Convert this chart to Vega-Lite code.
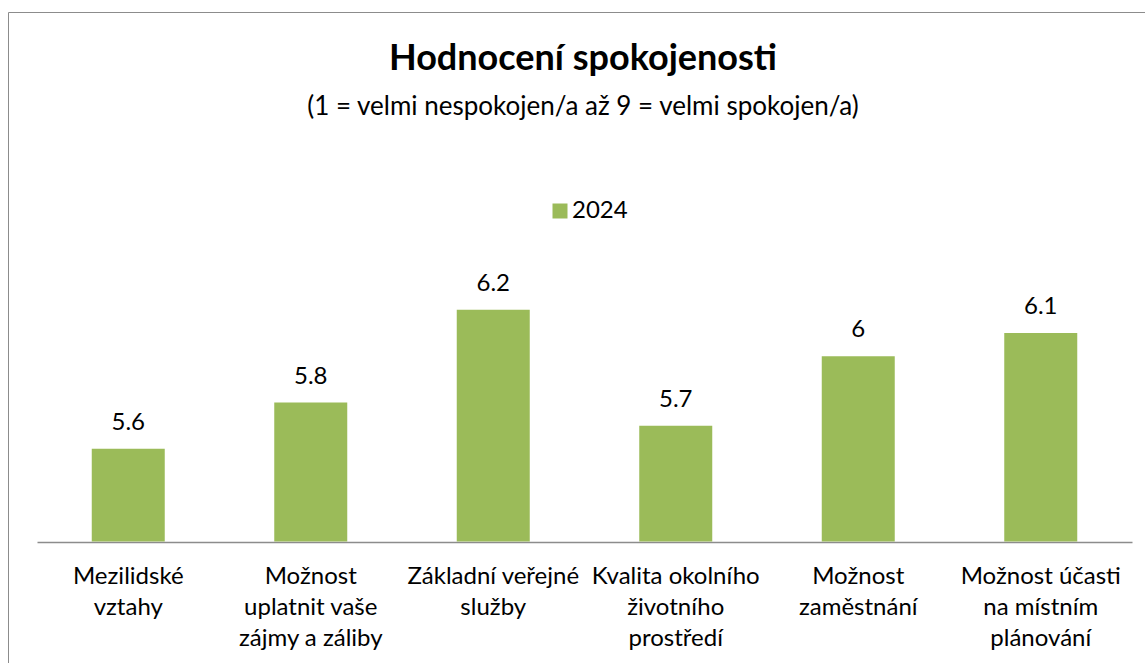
{
  "$schema": "https://vega.github.io/schema/vega-lite/v6.json",
  "width": 1150,
  "height": 660,
  "autosize": {"type": "none"},
  "padding": {"left": 8, "top": 12, "right": 0, "bottom": 0},
  "background": "white",
  "title": {
    "text": "Hodnocení spokojenosti",
    "subtitle": "(1 = velmi nespokojen/a až 9 = velmi spokojen/a)",
    "anchor": "middle",
    "frame": "group",
    "orient": "top",
    "offset": -109,
    "font": "Lato",
    "fontSize": 36,
    "fontWeight": "bold",
    "color": "#000000",
    "subtitleFont": "Lato",
    "subtitleFontSize": 26,
    "subtitleColor": "#000000",
    "subtitlePadding": 16
  },
  "data": {
    "values": [
      {"kategorie": "Mezilidské\nvztahy", "hodnota": 5.6, "rok": "2024"},
      {"kategorie": "Možnost\nuplatnit vaše\nzájmy a záliby", "hodnota": 5.8, "rok": "2024"},
      {"kategorie": "Základní veřejné\nslužby", "hodnota": 6.2, "rok": "2024"},
      {"kategorie": "Kvalita okolního\nživotního\nprostředí", "hodnota": 5.7, "rok": "2024"},
      {"kategorie": "Možnost\nzaměstnání", "hodnota": 6.0, "rok": "2024"},
      {"kategorie": "Možnost účasti\nna místním\nplánování", "hodnota": 6.1, "rok": "2024"}
    ]
  },
  "encoding": {
    "x": {
      "field": "kategorie",
      "type": "nominal",
      "sort": null,
      "title": null,
      "scale": {"range": [29, 1124], "paddingInner": 0.6, "paddingOuter": 0.3},
      "axis": {
        "orient": "bottom",
        "offset": -130,
        "labelAngle": 0,
        "labelExpr": "split(datum.label, '\\n')",
        "labelFont": "Lato",
        "labelFontSize": 24,
        "labelColor": "#000000",
        "labelLineHeight": 31,
        "labelPadding": 22,
        "labelLimit": 0,
        "labelOverlap": false,
        "labelFlush": false,
        "ticks": false,
        "tickSize": 0,
        "domainColor": "#8c8c8c",
        "domainWidth": 1.5,
        "grid": false
      }
    },
    "y": {
      "field": "hodnota",
      "type": "quantitative",
      "scale": {"domain": [5.2, 6.4], "range": [529.5, 251.5], "zero": false, "nice": false},
      "axis": null
    }
  },
  "layer": [
    {
      "mark": {"type": "bar"},
      "encoding": {
        "y2": {"datum": 5.2},
        "color": {
          "field": "rok",
          "type": "nominal",
          "scale": {"range": ["#9bbb59"]},
          "legend": {
            "orient": "none",
            "legendX": 540,
            "legendY": 187,
            "title": null,
            "symbolType": "square",
            "symbolSize": 225,
            "symbolStrokeWidth": 0,
            "labelFont": "Lato",
            "labelFontSize": 24,
            "labelColor": "#000000",
            "labelOffset": 0,
            "padding": 0
          }
        }
      }
    },
    {
      "mark": {"type": "text", "font": "Lato", "fontSize": 24, "color": "#000000", "baseline": "alphabetic", "dy": -19},
      "encoding": {
        "text": {"field": "hodnota", "type": "quantitative"}
      }
    }
  ],
  "config": {
    "view": {"stroke": "#8c8c8c", "strokeWidth": 1}
  }
}
